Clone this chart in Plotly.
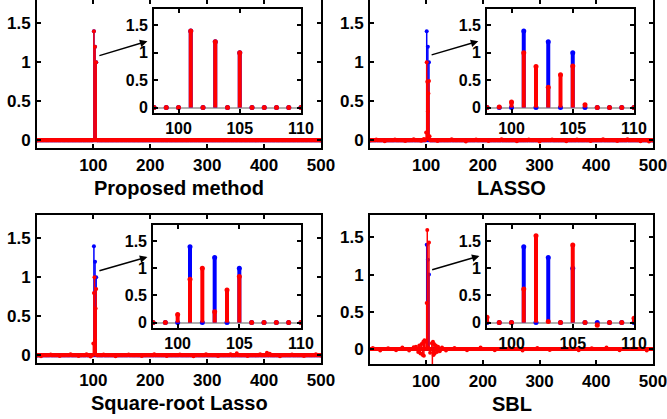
import plotly.graph_objects as go

N = 500
# ground truth (blue)
truth_idx = [101, 103, 105]
truth_val = [1.4, 1.2, 1.0]

# estimates (red): sparse index/value lists, zeros elsewhere
proposed_idx = [101, 103, 105]
proposed_val = [1.4, 1.2, 1.0]

lasso_idx = [12, 27, 45, 63, 78, 91, 96, 99, 100, 101, 102, 103, 104, 105, 106,
             120, 145, 170, 188, 210, 233, 260, 281, 300, 322, 347, 366, 390, 412,
             437, 455, 478, 493]
lasso_val = [0.01, -0.012, 0.008, -0.01, 0.012, -0.008, 0.015, 0.01, 0.1, 1.0, 0.75, 0.37, 0.6, 0.76, 0.05,
             -0.01, 0.012, -0.015, 0.01, -0.01, 0.012, -0.012, 0.01, -0.015, 0.01, -0.012, 0.01, -0.01, 0.013,
             -0.01, 0.012, -0.012, -0.015]

sqrt_idx = [8, 25, 41, 60, 74, 88, 95, 100, 101, 102, 103, 104, 105,
            118, 139, 162, 185, 207, 229, 252, 276, 298, 319, 341, 352, 371, 393, 405,
            410, 428, 449, 470, 491]
sqrt_val = [-0.012, 0.01, -0.01, 0.012, -0.01, 0.013, -0.015, 0.15, 0.8, 1.0, 0.2, 0.6, 0.85,
            0.01, -0.012, 0.01, -0.01, 0.012, -0.01, 0.01, -0.012, 0.012, -0.01, 0.012, 0.025, -0.01, 0.012, 0.03,
            0.02, -0.012, 0.01, -0.01, 0.012]

sbl_idx = [6, 19, 33, 47, 58, 70, 78, 82, 86, 88, 90, 92, 94, 95, 96, 97, 98, 101, 102, 103, 105,
           107, 110, 111, 112, 113, 114, 115, 117, 119, 121, 124, 128, 135, 150, 172, 196, 221,
           247, 270, 296, 318, 344, 369, 392, 418, 441, 466, 489]
sbl_val = [0.015, -0.02, 0.012, -0.015, 0.02, -0.02, 0.025, 0.03, -0.04, 0.05, -0.06, 0.07, -0.08, 0.1, -0.09, 0.12, 0.1, 0.62, 1.6, 0.02, 1.43,
           -0.05, 0.08, -0.3, 0.1, -0.08, 0.07, -0.06, 0.05, -0.04, 0.03, -0.03, 0.02, -0.02, 0.015, -0.015, 0.02, -0.015,
           0.015, -0.02, 0.015, -0.012, 0.018, -0.015, 0.012, 0.02, -0.015, 0.012, -0.018]

titles = ["Proposed method", "LASSO", "Square-root Lasso", "SBL"]
main_xticks = [100, 200, 300, 400, 500]
inset_xticks = [100, 105, 110]
yticks = [0, 0.5, 1, 1.5]
ytick_text = ["0", "0.5", "1", "1.5"]

BLUE = "#0000ff"
RED = "#ff0000"
FONT = "Liberation Sans, Arial, Helvetica, sans-serif"
W, H = 667, 419


def dense(idx, val):
    y = [0.0] * N
    for i, v in zip(idx, val):
        y[i - 1] = v
    return y


xs = list(range(1, N + 1))
truth = dense(truth_idx, truth_val)
estimates = [dense(proposed_idx, proposed_val), dense(lasso_idx, lasso_val),
             dense(sqrt_idx, sqrt_val), dense(sbl_idx, sbl_val)]


def stems(y):
    sx, sy = [], []
    for x, v in zip(xs, y):
        if v != 0:
            sx += [x, x, None]
            sy += [0, v, None]
    return sx, sy


def bold(labels):
    return [f"<b>{t}</b>" for t in labels]


# pixel boxes: (left, top, right, bottom)
main_boxes = [(37, 0, 321, 148), (370, 0, 653, 148), (37, 215, 321, 363), (370, 215, 653, 364)]
inset_boxes = [(154, 9, 301, 113), (487, 9, 634, 113), (153, 225, 301, 328), (487, 225, 634, 328)]
main_yrange = [[-0.1, 1.8], [-0.1, 1.8], [-0.1, 1.8], [-0.2, 1.8]]
arrows = [((108, 1.08), (195, 1.27)), ((107, 1.09), (192, 1.27)),
          ((108, 1.08), (195, 1.26)), ((108, 1.06), (194, 1.25))]
title_y = [188, 188, 403, 404]


def xdom(b):
    return [b[0] / W, b[2] / W]


def ydom(b):
    return [1 - b[3] / H, 1 - b[1] / H]


fig = go.Figure()
layout = {}
annotations = []

for p in range(4):
    est = estimates[p]
    for kind in range(2):  # 0 main, 1 inset
        n = 2 * p + kind + 1
        xa = "x" if n == 1 else f"x{n}"
        ya = "y" if n == 1 else f"y{n}"
        lw = 1.5 if kind == 0 else 4
        ms = 4 if kind == 0 else 5
        for y, col in ((truth, BLUE), (est, RED)):
            sx, sy = stems(y)
            fig.add_trace(go.Scatter(x=sx, y=sy, mode="lines", line=dict(color=col, width=lw),
                                     xaxis=xa, yaxis=ya, showlegend=False, hoverinfo="skip"))
            fig.add_trace(go.Scatter(x=xs, y=y, mode="markers",
                                     marker=dict(color=col, size=ms, line=dict(width=0)),
                                     xaxis=xa, yaxis=ya, showlegend=False, hoverinfo="skip"))
        box = main_boxes[p] if kind == 0 else inset_boxes[p]
        xkey = "xaxis" if n == 1 else f"xaxis{n}"
        ykey = "yaxis" if n == 1 else f"yaxis{n}"
        common = dict(showline=True, linecolor="black", linewidth=2 if kind == 0 else 1.6,
                      mirror="ticks", ticks="inside", ticklen=4, tickwidth=1.5, tickcolor="black",
                      showgrid=False, automargin=False, ticklabeloverflow="allow",
                      tickfont=dict(family=FONT, size=17 if kind == 0 else 16, color="black"))
        xt = main_xticks if kind == 0 else inset_xticks
        layout[xkey] = dict(common, domain=xdom(box), anchor=ya,
                            range=[1, 500] if kind == 0 else [98, 110],
                            tickvals=xt, ticktext=bold([str(v) for v in xt]),
                            zeroline=False, ticklabelstandoff=1 if kind == 0 else 0)
        layout[ykey] = dict(common, domain=ydom(box), anchor=xa,
                            range=main_yrange[p] if kind == 0 else [-0.1, 1.8],
                            tickvals=yticks, ticktext=bold(ytick_text),
                            zeroline=(kind == 1), zerolinecolor="#b0b0b0", zerolinewidth=2,
                            ticklabelstandoff=1)
        if kind == 0:
            (ax0, ay0), (hx, hy) = arrows[p]
            annotations.append(dict(x=hx, y=hy, ax=ax0, ay=ay0, xref=xa, yref=ya, axref=xa, ayref=ya,
                                    showarrow=True, arrowhead=2, arrowsize=1, arrowwidth=1.5,
                                    arrowcolor="black", text=""))
            mb = main_boxes[p]
            annotations.append(dict(x=(mb[0] + mb[2]) / 2 / W, y=1 - title_y[p] / H,
                                    xref="paper", yref="paper", showarrow=False,
                                    xanchor="center", yanchor="middle", text=f"<b>{titles[p]}</b>",
                                    font=dict(family=FONT, size=20, color="black")))

fig.update_layout(width=W, height=H, margin=dict(l=0, r=0, t=0, b=0),
                  paper_bgcolor="white", plot_bgcolor="white",
                  annotations=annotations, **layout)

fig.write_html("out.html", config={"displayModeBar": False},
               post_script="document.body.style.margin='0px';document.body.style.overflow='hidden';")
